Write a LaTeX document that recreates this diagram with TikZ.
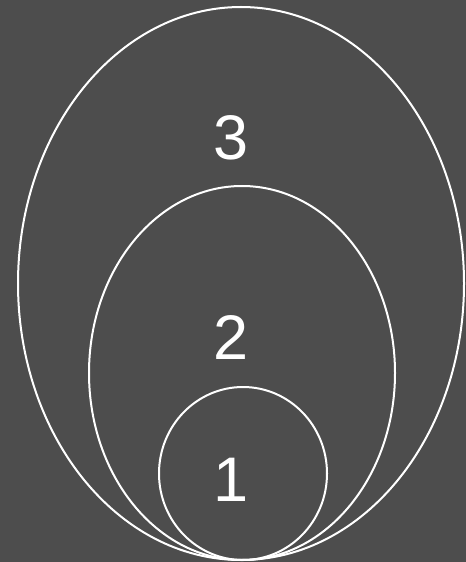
\documentclass[tikz,border=0pt]{standalone}
\usepackage{fontspec}
\setmainfont{Liberation Sans}
\usepackage{tikz}
\usetikzlibrary{positioning}
\definecolor{bgdark}{RGB}{77,77,77}

\begin{document}
\begin{tikzpicture}[x=1bp,y=-1bp,
    ring/.style={draw=white,line width=2bp},
    lvl/.style={text=white,inner sep=0pt,font=\fontsize{63bp}{63bp}\selectfont}]
    % background fixes the page size
    \fill[bgdark] (0,0) rectangle (466,562);
    \useasboundingbox (0,0) rectangle (466,562);
    % nested ellipses, all touching at the bottom
    \draw[ring] (241,283.5) ellipse [x radius=223,y radius=276.5];
    \draw[ring] (242,373) ellipse [x radius=153,y radius=187];
    \draw[ring] (243,473.5) ellipse [x radius=84,y radius=86.5];
    % labels
    \node[lvl] (three) at (231.5,137.5) {3};
    \node[lvl] (two) at (231,338) {2};
    \node[lvl] (one) at (231,480) {1};
\end{tikzpicture}
\end{document}
